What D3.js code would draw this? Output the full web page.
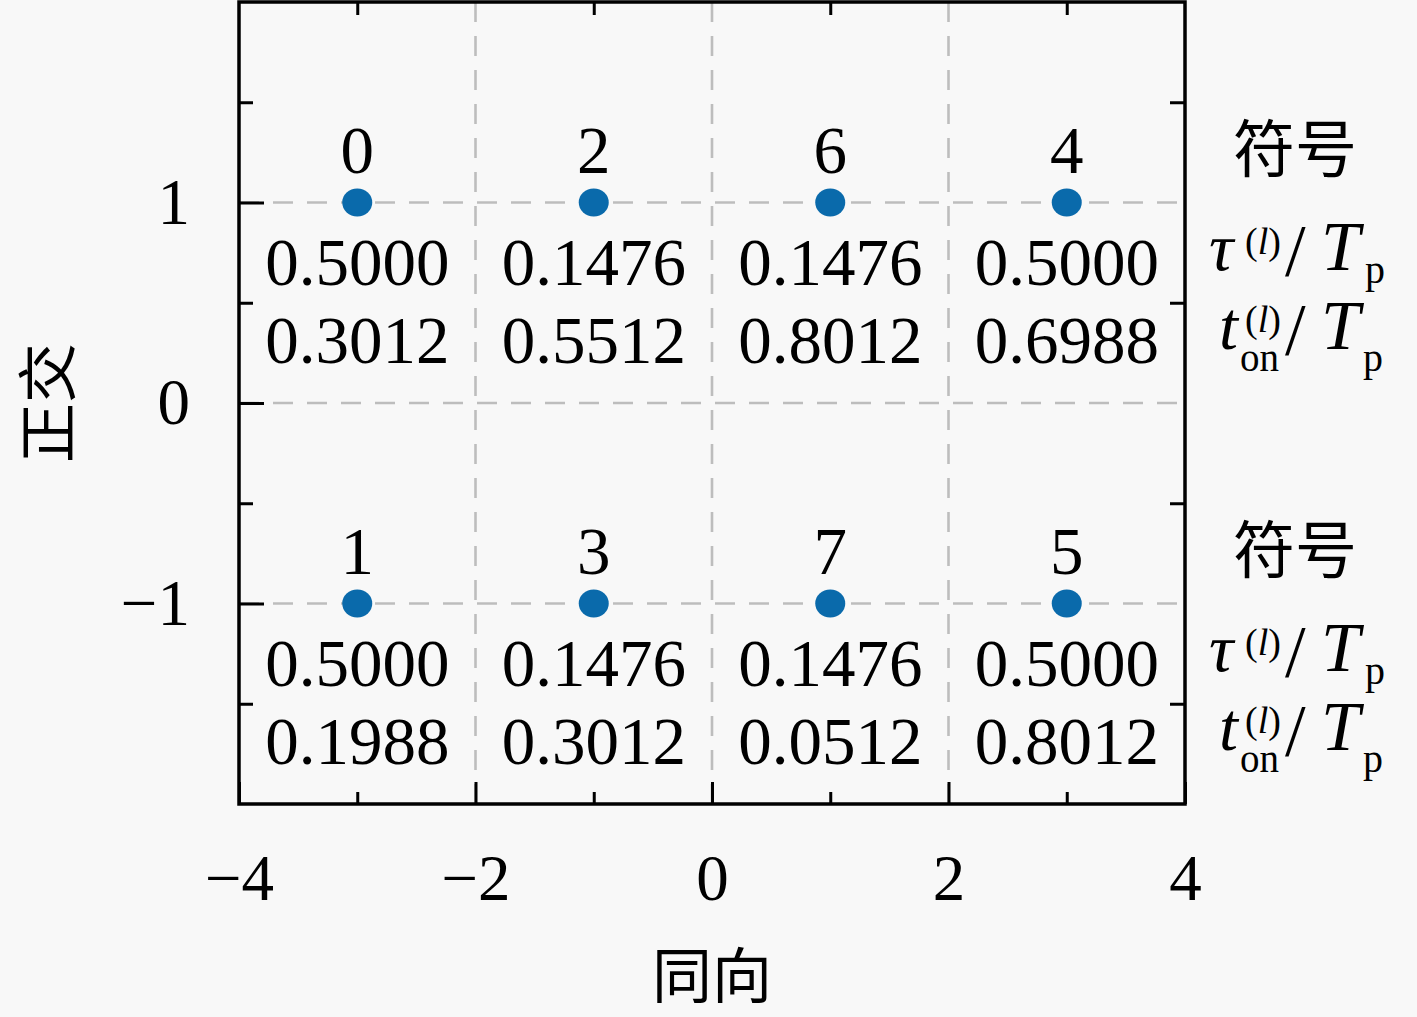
<!DOCTYPE html>
<html>
<head>
<meta charset="utf-8">
<script src="https://cdn.jsdelivr.net/npm/d3@7/dist/d3.min.js"></script>
<style>
  html, body { margin: 0; padding: 0; background: #f8f8f8; }
  svg { display: block; }
</style>
</head>
<body>
<svg id="chart" width="1417" height="1017"></svg>
<script>
// ---- data ----
const symbols   = [0, 2, 6, 4, 1, 3, 7, 5];
const inPhase   = [-3, -1, 1, 3, -3, -1, 1, 3];
const quadrature = [1, 1, 1, 1, -1, -1, -1, -1];
const tauVals   = ["0.5000", "0.1476", "0.1476", "0.5000", "0.5000", "0.1476", "0.1476", "0.5000"];
const tonVals   = ["0.3012", "0.5512", "0.8012", "0.6988", "0.1988", "0.3012", "0.0512", "0.8012"];
const rowLevels = [1, -1];
const xTickVals = [-4, -2, 0, 2, 4];
const xMinorVals = [-3, -1, 1, 3];
const yTickVals = [-1, 0, 1];
const yMinorVals = [-1.5, -0.5, 0.5, 1.5];
const xGridVals = [-2, 0, 2];
const yGridVals = [-1, 0, 1];
const xLabel = "同向";
const yLabel = "正交";
const symbolLabel = "符号";

// ---- layout ----
const W = 1417, H = 1017;
const L = 239, R = 1185, T = 2, B = 804;
const serif = "'Liberation Serif', 'DejaVu Serif', serif";
const cjk = "'Noto Sans CJK SC', 'Noto Sans CJK JP', sans-serif";
const fs = 65;

const svg = d3.select("#chart");
svg.append("rect").attr("width", W).attr("height", H).attr("fill", "#f8f8f8");

const x = d3.scaleLinear().domain([-4, 4]).range([L, R]);
const y = d3.scaleLinear().domain([-2, 2]).range([B, T]);

const fmt = d => (d < 0 ? "\u2212" + Math.abs(d) : String(d));

// grid
const grid = svg.append("g").attr("stroke", "#bdbdbd").attr("stroke-width", 2.6)
  .attr("stroke-dasharray", "20,14").attr("fill", "none");
grid.selectAll("line.v").data(xGridVals).join("line").attr("class", "v")
  .attr("x1", d => x(d)).attr("x2", d => x(d)).attr("y1", T).attr("y2", B);
grid.selectAll("line.h").data(yGridVals).join("line").attr("class", "h")
  .attr("x1", L).attr("x2", R).attr("y1", d => y(d)).attr("y2", d => y(d));

// axes
function styleAxis(g) {
  g.select(".domain").remove();
  g.selectAll(".tick line").attr("stroke", "#000").attr("stroke-width", 3);
  g.selectAll(".tick text").attr("fill", "#000").attr("font-family", serif).attr("font-size", fs);
}
svg.append("g").attr("transform", `translate(0,${B})`)
  .call(d3.axisBottom(x).tickValues(xTickVals).tickFormat(fmt).tickSizeInner(-22).tickSizeOuter(0).tickPadding(50))
  .call(styleAxis);
svg.append("g").attr("transform", `translate(0,${B})`)
  .call(d3.axisBottom(x).tickValues(xMinorVals).tickFormat("").tickSizeInner(-12).tickSizeOuter(0))
  .call(styleAxis);
svg.append("g").attr("transform", `translate(0,${T})`)
  .call(d3.axisTop(x).tickValues(xMinorVals).tickFormat("").tickSizeInner(-13).tickSizeOuter(0))
  .call(styleAxis);
svg.append("g").attr("transform", `translate(${L},0)`)
  .call(d3.axisLeft(y).tickValues(yTickVals).tickFormat(fmt).tickSizeInner(-25).tickSizeOuter(0).tickPadding(49))
  .call(styleAxis);
svg.append("g").attr("transform", `translate(${L},0)`)
  .call(d3.axisLeft(y).tickValues(yMinorVals).tickFormat("").tickSizeInner(-14).tickSizeOuter(0))
  .call(styleAxis);
svg.append("g").attr("transform", `translate(${R},0)`)
  .call(d3.axisRight(y).tickValues(yMinorVals).tickFormat("").tickSizeInner(-15).tickSizeOuter(0))
  .call(styleAxis);

// frame
svg.append("rect").attr("x", L).attr("y", T).attr("width", R - L).attr("height", B - T)
  .attr("fill", "none").attr("stroke", "#000").attr("stroke-width", 3.5);

// points
const pts = symbols.map((s, i) => ({ s, i: inPhase[i], q: quadrature[i], tau: tauVals[i], ton: tonVals[i] }));
svg.append("g").selectAll("ellipse").data(pts).join("ellipse")
  .attr("cx", d => x(d.i)).attr("cy", d => y(d.q)).attr("rx", 15).attr("ry", 14)
  .attr("fill", "#0a6aab");

const lbl = svg.append("g").attr("font-family", serif).attr("font-size", 67)
  .attr("text-anchor", "middle").attr("fill", "#000");
lbl.selectAll("text.sym").data(pts).join("text").attr("class", "sym")
  .attr("x", d => x(d.i)).attr("y", d => y(d.q) - 30).text(d => d.s);
lbl.selectAll("text.tau").data(pts).join("text").attr("class", "tau")
  .attr("x", d => x(d.i)).attr("y", d => y(d.q) + 82).text(d => d.tau);
lbl.selectAll("text.ton").data(pts).join("text").attr("class", "ton")
  .attr("x", d => x(d.i)).attr("y", d => y(d.q) + 160).text(d => d.ton);

// right-hand row captions
rowLevels.forEach(lv => {
  const g = svg.append("g").attr("transform", `translate(${R + 24},${y(lv)})`).attr("fill", "#000");
  g.append("text").attr("x", 86).attr("y", -31).attr("text-anchor", "middle")
    .attr("font-family", cjk).attr("font-size", 62).text(symbolLabel);
  // tau^(l)/T_p
  const b1 = 67;
  g.append("text").attr("x", 0).attr("y", b1).attr("font-family", serif).attr("font-size", 68)
    .attr("font-style", "italic").text("τ");
  const s1 = g.append("text").attr("x", 36).attr("y", b1 - 16).attr("font-family", serif).attr("font-size", 38);
  s1.append("tspan").text("(");
  s1.append("tspan").attr("font-style", "italic").text("l");
  s1.append("tspan").text(")");
  g.append("text").attr("x", 76).attr("y", b1 + 6).attr("font-family", serif).attr("font-size", 74).text("/");
  g.append("text").attr("x", 112).attr("y", b1).attr("font-family", serif).attr("font-size", 70)
    .attr("font-style", "italic").text("T");
  g.append("text").attr("x", 156).attr("y", b1 + 13).attr("font-family", serif).attr("font-size", 40).text("p");
  // t_on^(l)/T_p  (superscript and subscript stacked in one text element)
  const b2 = 146;
  g.append("text").attr("x", 10).attr("y", b2).attr("font-family", serif).attr("font-size", 68)
    .attr("font-style", "italic").text("t");
  const s2 = g.append("text").attr("x", 36).attr("y", b2 - 17).attr("font-family", serif).attr("font-size", 38);
  s2.append("tspan").text("(");
  s2.append("tspan").attr("font-style", "italic").text("l");
  s2.append("tspan").text(")");
  s2.append("tspan").attr("x", 31).attr("dy", 39).attr("font-size", 39).text("on");
  g.append("text").attr("x", 76).attr("y", b2 + 6).attr("font-family", serif).attr("font-size", 74).text("/");
  g.append("text").attr("x", 112).attr("y", b2).attr("font-family", serif).attr("font-size", 70)
    .attr("font-style", "italic").text("T");
  g.append("text").attr("x", 154).attr("y", b2 + 22).attr("font-family", serif).attr("font-size", 40).text("p");
});

// axis titles
svg.append("text").attr("x", x(0)).attr("y", 998).attr("text-anchor", "middle")
  .attr("font-family", cjk).attr("font-size", 60).attr("fill", "#000").text(xLabel);
svg.append("text").attr("transform", `translate(70,${y(0)}) rotate(-90)`).attr("text-anchor", "middle")
  .attr("font-family", cjk).attr("font-size", 60).attr("fill", "#000").text(yLabel);
</script>
</body>
</html>
